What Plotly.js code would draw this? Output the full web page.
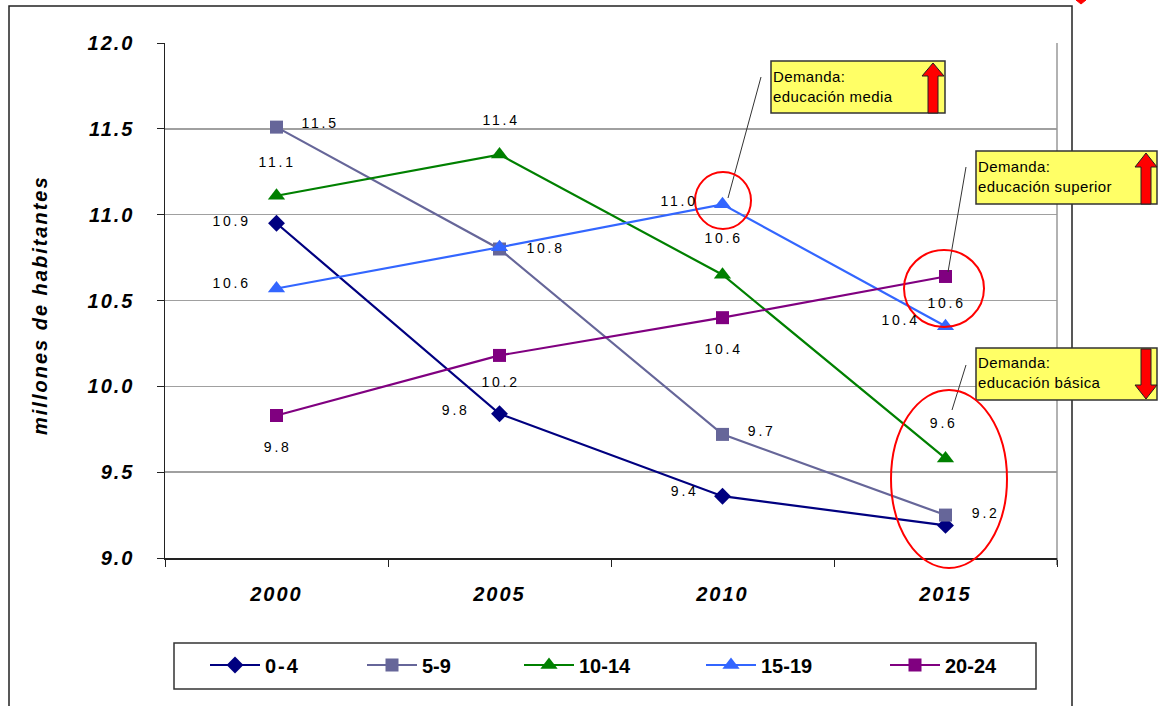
<!DOCTYPE html>
<html><head><meta charset="utf-8">
<script src="https://cdn.plot.ly/plotly-3.0.1.min.js"></script>
<style>
body{margin:0;background:#fff}
.xtick text, .ytick text { letter-spacing: 2px; }
.legendtext { letter-spacing: 2px; }
</style>
</head><body><div id="chart" style="width:1160px;height:706px"></div>
<script>
// ---- data ----
const years = ['2000', '2005', '2010', '2015'];
const seriesNames = ['0-4', '5-9', '10-14', '15-19', '20-24'];
const v0_4   = [10.95, 9.84, 9.36, 9.19];
const v5_9   = [11.51, 10.80, 9.72, 9.25];
const v10_14 = [11.11, 11.35, 10.65, 9.58];
const v15_19 = [10.57, 10.81, 11.06, 10.35];
const v20_24 = [9.83, 10.18, 10.40, 10.64];
const lbl0_4   = ['10.9', '9.8', '9.4', null];
const lbl5_9   = ['11.5', '10.8', '9.7', '9.2'];
const lbl10_14 = ['11.1', '11.4', '10.6', '9.6'];
const lbl15_19 = ['10.6', null, '11.0', '10.4'];
const lbl20_24 = ['9.8', '10.2', '10.4', '10.6'];
const yTitle = 'millones de habitantes';
const boxTexts = ['Demanda:<br>educación media', 'Demanda:<br>educación superior', 'Demanda:<br>educación básica'];

// ---- styles ----
const values = [v0_4, v5_9, v10_14, v15_19, v20_24];
const labels = [lbl0_4, lbl5_9, lbl10_14, lbl15_19, lbl20_24];
const colors = ['#000080', '#666699', '#008000', '#3366FF', '#800080'];
const symbols = ['diamond', 'square', 'triangle-up', 'triangle-up', 'square'];
const msizes = [13, 13, 15, 15, 13];
// label offsets in px (xshift, yshift) per series per point
const offs = [
  [[-46, 2], [-45, 4], [-39, 5], [0, 0]],
  [[42, 4], [45, 1], [38, 3], [39, 2]],
  [[-1, 34], [0, 35], [0, 37], [-3, 35]],
  [[-46, 5], [0, 0], [-45, 3], [-46, 6]],
  [[0, -31], [0, -27], [0, -31], [0, -27]]
];
const legendLineStart = [210, 367, 524, 706, 890];

const L = 165, R = 1057, T = 43, B = 558;
const px = x => (x - L) / (R - L);
const py = y => (B - y) / (B - T);
const FONT = 'Liberation Sans, Arial, sans-serif';

const traces = seriesNames.map((n, i) => ({
  type: 'scatter', mode: 'lines+markers', name: n,
  x: years, y: values[i],
  legend: i === 0 ? 'legend' : 'legend' + (i + 1),
  line: {color: colors[i], width: 2.2},
  marker: {symbol: symbols[i], size: msizes[i], color: colors[i]}
}));

const annotations = [];
const spacing = [];
labels.forEach((arr, i) => arr.forEach((t, j) => {
  if (t === null) return;
  annotations.push({x: j, y: values[i][j], xref: 'x', yref: 'y', text: t, showarrow: false,
    xshift: offs[i][j][0] + 1, yshift: offs[i][j][1], font: {family: FONT, size: 14, color: '#000'}});
  spacing.push('2.8px');
}));
annotations.push({xref: 'paper', yref: 'paper', x: px(40), y: py(305), xanchor: 'center', yanchor: 'middle',
  text: yTitle, textangle: -90,
  showarrow: false, font: {family: FONT, size: 20, weight: 'bold', style: 'italic', color: '#000'}});
spacing.push('2px');

const shapes = [];
// outer frame
shapes.push({type: 'rect', xref: 'paper', yref: 'paper', x0: px(9), x1: px(1072), y0: py(720), y1: py(6),
  line: {color: '#222', width: 1.5}, layer: 'below'});
// right plot border
shapes.push({type: 'line', xref: 'paper', yref: 'paper', x0: 1, x1: 1, y0: 0, y1: 1, line: {color: '#999', width: 1.5}});
shapes.push({type: 'line', xref: 'paper', yref: 'paper', x0: 1, x1: 1, y0: 0, y1: py(565), line: {color: '#222', width: 1}});
// legend frame
shapes.push({type: 'rect', xref: 'paper', yref: 'paper', x0: px(174), x1: px(1036), y0: py(689), y1: py(643),
  line: {color: '#333', width: 1.5}});

// yellow boxes
const boxes = [[771, 61, 945, 113], [976, 151, 1157, 204], [976, 348, 1157, 400]];
boxes.forEach((b, k) => {
  shapes.push({type: 'rect', xref: 'paper', yref: 'paper', x0: px(b[0]), x1: px(b[2]), y0: py(b[3]), y1: py(b[1]),
    fillcolor: '#FFFF66', line: {color: '#333', width: 1.5}});
  annotations.push({xref: 'paper', yref: 'paper', x: px(b[0]), y: py((b[1] + b[3]) / 2 - 1), xanchor: 'left', yanchor: 'middle',
    align: 'left', text: boxTexts[k], showarrow: false, font: {family: FONT, size: 15, color: '#000'}});
  spacing.push('0.4px');
});
function pathOf(pts) { return 'M' + pts.map(p => px(p[0]) + ',' + py(p[1])).join('L') + 'Z'; }
const arrowUp = (cx, top, base, bottom) => pathOf([[cx, top], [cx + 11, base], [cx + 5, base], [cx + 5, bottom], [cx - 5, bottom], [cx - 5, base], [cx - 11, base]]);
const arrowDown = (cx, topY, base, tip) => pathOf([[cx - 5, topY], [cx + 5, topY], [cx + 5, base], [cx + 11, base], [cx, tip], [cx - 11, base], [cx - 5, base]]);
[arrowUp(933, 63, 76, 113), arrowUp(1146, 153, 167, 204), arrowDown(1146, 349, 385, 399)].forEach(p =>
  shapes.push({type: 'path', xref: 'paper', yref: 'paper', path: p, fillcolor: '#FF0000', line: {color: '#222', width: 1}}));
// tiny red mark at top right (cut-off)
shapes.push({type: 'path', xref: 'paper', yref: 'paper', path: pathOf([[1076, 0], [1086, 0], [1081, 4]]), fillcolor: '#FF0000', line: {color: '#FF0000', width: 1}});

// connector lines
[[761, 77, 728, 198], [966, 167, 948, 272], [966, 365, 952, 410]].forEach(l =>
  shapes.push({type: 'line', xref: 'paper', yref: 'paper', x0: px(l[0]), y0: py(l[1]), x1: px(l[2]), y1: py(l[3]),
    line: {color: '#333', width: 1}}));
// red circles
[[695, 172, 751, 229], [904, 250, 984, 327], [891, 390, 1007, 568]].forEach(c =>
  shapes.push({type: 'circle', xref: 'paper', yref: 'paper', x0: px(c[0]), x1: px(c[2]), y0: py(c[3]), y1: py(c[1]),
    line: {color: '#FF0000', width: 2}}));

const layout = {
  width: 1160, height: 706,
  margin: {l: L, r: 1160 - R, t: T, b: 706 - B},
  paper_bgcolor: '#fff', plot_bgcolor: '#fff',
  showlegend: true,
  xaxis: {type: 'category', range: [-0.5, 3.5], showgrid: false, zeroline: false,
    showline: true, linecolor: '#222', linewidth: 1.5, ticks: 'outside', tickson: 'boundaries', ticklen: 7, tickcolor: '#222',
    ticklabelstandoff: 17,
    tickfont: {family: FONT, size: 20, weight: 'bold', style: 'italic', color: '#000'}},
  yaxis: {range: [9, 12], dtick: 0.5, tickformat: '.1f', showgrid: true, gridcolor: '#a0a0a0', gridwidth: 1.5,
    zeroline: false, showline: true, linecolor: '#222', linewidth: 1.5, ticks: 'outside', ticklen: 7, tickcolor: '#222',
    ticklabelstandoff: 18,
    tickfont: {family: FONT, size: 20, weight: 'bold', style: 'italic', color: '#000'}},
  annotations: annotations, shapes: shapes
};
legendLineStart.forEach((x0, i) => {
  const key = i === 0 ? 'legend' : 'legend' + (i + 1);
  layout[key] = {x: px(x0 - 5), xanchor: 'left', y: py(665), yanchor: 'middle', bgcolor: 'rgba(0,0,0,0)',
    borderwidth: 0, itemwidth: 50, font: {family: FONT, size: 20, weight: 'bold', color: '#000'}};
});
Plotly.newPlot('chart', traces, layout, {displayModeBar: false, staticPlot: true}).then(() => {
  document.querySelectorAll('g.annotation').forEach(g => {
    const idx = +g.getAttribute('data-index');
    const t = g.querySelector('text');
    if (t && spacing[idx]) t.style.letterSpacing = spacing[idx];
  });
});
</script></body></html>
